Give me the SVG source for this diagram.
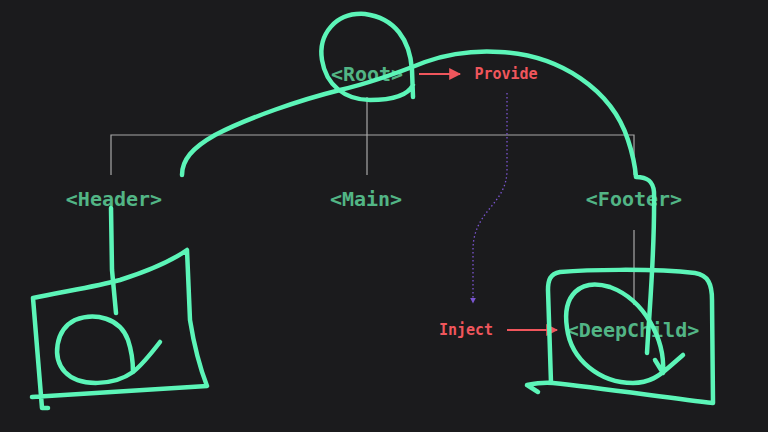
<svg xmlns="http://www.w3.org/2000/svg" width="768" height="432" viewBox="0 0 768 432">
<defs>
<style>
.node{font-family:"DejaVu Sans Mono","Liberation Mono",monospace;font-weight:bold;font-size:20px;fill:#52b585;text-anchor:middle}
.lbl{font-family:"DejaVu Sans Mono","Liberation Mono",monospace;font-weight:bold;font-size:15px;fill:#f0565c;text-anchor:middle}
.tree{stroke:#a8a8a8;stroke-width:1.2;fill:none}
.red{stroke:#f0565c;stroke-width:2;fill:none}
.dot{stroke:#7a55d0;stroke-width:1.3;stroke-dasharray:1.5 2.5;fill:none}
.ink{stroke:#5cf5b8;stroke-width:4.5;fill:none;stroke-linecap:round;stroke-linejoin:round}
</style>
<marker id="ar" viewBox="0 0 10 10" refX="9" refY="5" markerWidth="6" markerHeight="6" markerUnits="strokeWidth" orient="auto"><path d="M0,0L10,5L0,10z" fill="#f0565c"/></marker>
<marker id="ap" viewBox="0 0 10 10" refX="9" refY="5" markerWidth="6" markerHeight="6" markerUnits="userSpaceOnUse" orient="auto"><path d="M0,0L10,5L0,10z" fill="#7a55d0"/></marker>
</defs>
<rect width="768" height="432" fill="#1b1b1d"/>
<g id="connectors">
<path class="tree" d="M367,97V135M111,175V135H634V175M367,135V175M634,230V305"/>
<path class="red" d="M419,74H460" marker-end="url(#ar)"/>
<path class="red" d="M507,330H557" marker-end="url(#ar)"/>
<path class="dot" d="M507,93V170C507,205 473,210 473,250V303" marker-end="url(#ap)"/>
</g>
<g id="root"><text class="node" x="367" y="81">&lt;Root&gt;</text></g>
<g id="provide"><text class="lbl" x="506" y="79">Provide</text></g>
<g id="header"><text class="node" x="114" y="206">&lt;Header&gt;</text></g>
<g id="main"><text class="node" x="366" y="206">&lt;Main&gt;</text></g>
<g id="footer"><text class="node" x="634" y="206">&lt;Footer&gt;</text></g>
<g id="inject"><text class="lbl" x="466" y="335">Inject</text></g>
<g id="deepchild"><text class="node" x="633" y="337">&lt;DeepChild&gt;</text></g>
<g id="ink">
<path class="ink" d="M413,97L412,70C410,40 395,18 365,14C335,12 318,35 322,60C326,85 345,100 370,100C392,100 408,95 413,85"/>
<path class="ink" d="M182,175C182,160 192,148 215,135C250,117 300,100 340,90C370,83 400,72 425,62C445,55 470,50 500,52C560,55 612,90 628,140C633,155 635,165 636,177C646,177 653,180 654,192C655,250 650,300 647,353"/>
<path class="ink" d="M111,208L112,270L116,313"/>
<path class="ink" d="M33,298C60,292 95,287 120,280C145,272 170,262 187,250L190,320C194,345 200,368 207,386L32,397M33,298L42,408L48,408"/>
<path class="ink" d="M160,342C150,355 142,365 133,372C115,385 80,388 65,372C52,358 55,330 75,320C95,312 120,318 128,340C132,352 133,362 133,372"/>
<path class="ink" d="M527,385C532,384 545,382 553,383C600,388 670,398 713,403L712,300C712,284 708,275 695,273C650,268 585,270 560,272C550,274 548,280 548,290L551,383M527,385L538,392"/>
<path class="ink" d="M663,372C665,340 645,300 610,287C580,278 562,295 567,328C571,360 600,383 633,383C650,383 660,375 668,368L683,355M655,360L663,373"/>
</g>
</svg>
